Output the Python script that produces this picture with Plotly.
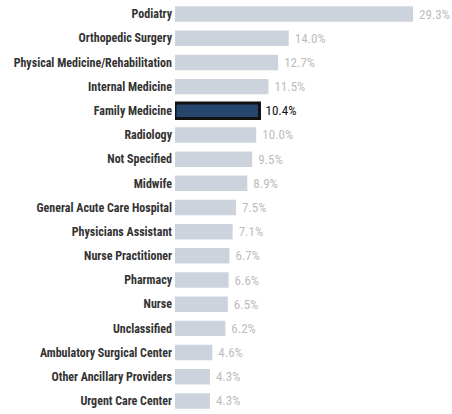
import plotly.graph_objects as go

categories = ["Podiatry", "Orthopedic Surgery", "Physical Medicine/Rehabilitation",
              "Internal Medicine", "Family Medicine", "Radiology", "Not Specified",
              "Midwife", "General Acute Care Hospital", "Physicians Assistant",
              "Nurse Practitioner", "Pharmacy", "Nurse", "Unclassified",
              "Ambulatory Surgical Center", "Other Ancillary Providers", "Urgent Care Center"]
values = [29.3, 14.0, 12.7, 11.5, 10.4, 10.0, 9.5, 8.9, 7.5, 7.1, 6.7, 6.6, 6.5, 6.2, 4.6, 4.3, 4.3]
highlight = "Family Medicine"

FONT = "Roboto Condensed, Liberation Sans Narrow, sans-serif"
base_col = "#cdd3dc"
hi_col = "#26466e"

colors = [hi_col if c == highlight else base_col for c in categories]
line_w = [3 if c == highlight else 0 for c in categories]
text_cols = ["#111111" if c == highlight else "#bdbdbd" for c in categories]

fig = go.Figure(go.Bar(
    x=values, y=categories, orientation="h",
    marker=dict(color=colors, line=dict(color="#111111", width=line_w)),
    width=0.64,
    text=[f" {v:.1f}%" for v in values],
    textposition="outside",
    textfont=dict(family=FONT, size=13, color=text_cols),
    cliponaxis=False,
    hoverinfo="skip",
))

fig.update_layout(
    width=452, height=414,
    margin=dict(l=175, r=0, t=2, b=1, autoexpand=False),
    paper_bgcolor="white", plot_bgcolor="white",
    showlegend=False,
    xaxis=dict(range=[0, 34.1], visible=False, fixedrange=True, automargin=False),
    yaxis=dict(autorange="reversed", showgrid=False, zeroline=False, showline=False,
               ticks="", ticklabelstandoff=2, automargin=False,
               tickfont=dict(family=FONT, size=12, color="#333333", weight="bold")),
)

fig.write_html("out.html", config={"displayModeBar": False},
               post_script="document.body.style.margin='0';")
